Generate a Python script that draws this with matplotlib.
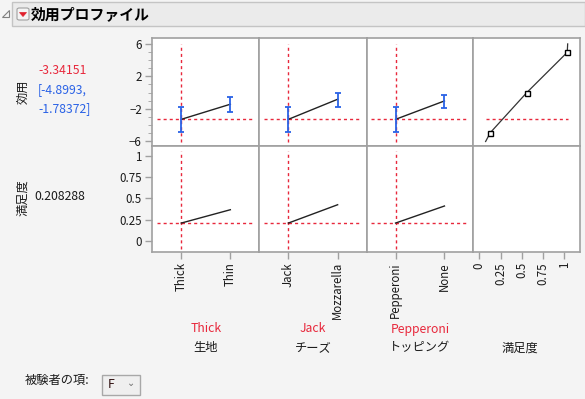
import matplotlib
matplotlib.use("Agg")
import matplotlib.pyplot as plt
from matplotlib.patches import Rectangle, Polygon, FancyBboxPatch

plt.rcParams['font.family'] = ['Noto Sans CJK JP', 'DejaVu Sans']

# ---------------- data ----------------
factor_names = ["生地", "チーズ", "トッピング"]
factor_levels = [["Thick", "Thin"], ["Jack", "Mozzarella"], ["Pepperoni", "None"]]
current_levels = ["Thick", "Jack", "Pepperoni"]
utility_vals = [[-3.34151, -1.46], [-3.34151, -0.84], [-3.34151, -1.05]]
utility_lo = [[-4.8993, -2.46], [-4.8993, -1.75], [-4.8993, -1.87]]
utility_hi = [[-1.78372, -0.62], [-1.78372, 0.0], [-1.78372, -0.25]]
desir_vals = [[0.208288, 0.366], [0.208288, 0.425], [0.208288, 0.41]]
current_utility = -3.34151
current_ci = [-4.8993, -1.78372]
current_desir = 0.208288
# satisfaction (desirability) function: utility vs desirability
curve_desir = [0.075, 0.13, 0.56, 1.035, 1.04]
curve_util = [-6.1, -5.0, 0.0, 5.0, 6.05]
ctrl_desir = [0.13, 0.56, 1.035]
ctrl_util = [-5.0, 0.0, 5.0]
util_ticks = [-6, -2, 2, 6]
desir_ticks = [0, 0.25, 0.5, 0.75, 1]
desir_ticklabels = ["0", "0.25", "0.5", "0.75", "1"]

# ---------------- styling ----------------
W, H = 585, 399
BG = "#f4f4f4"
RED = "#e8283c"
BLUE = "#2a62e6"
GRID = "#a0a0a0"
TXT = "#1a1a1a"

fig = plt.figure(figsize=(W / 100, H / 100), dpi=100, facecolor=BG)


def fx(x):
    return x / W


def fy(y):
    return 1 - y / H


def add_ax(x0, y0, x1, y1):
    ax = fig.add_axes([fx(x0), fy(y1), (x1 - x0) / W, (y1 - y0) / H])
    ax.set_facecolor("white")
    for s in ax.spines.values():
        s.set_color(GRID)
        s.set_linewidth(1.2)
    ax.tick_params(colors=GRID, labelcolor=TXT, labelsize=8.3, length=5, width=1, pad=2.5)
    return ax


xe = [152.3, 259.3, 366.7, 473.3, 580.0]
ytop, ymid, ybot = 38.3, 145.5, 251.7
UT_LIM = (-6.6, 6.75)
DS_LIM = (-0.13, 1.125)
FAC_LIM = (-0.59, 1.59)
SAT_LIM = (-0.07, 1.185)

dash = (0, (2.2, 2.2))

for i in range(4):
    axt = add_ax(xe[i], ytop, xe[i + 1], ymid)
    axb = add_ax(xe[i], ymid, xe[i + 1], ybot)
    axt.set_ylim(*UT_LIM)
    axb.set_ylim(*DS_LIM)
    if i < 3:
        pos = list(range(len(factor_levels[i])))
        for ax in (axt, axb):
            ax.set_xlim(*FAC_LIM)
            ax.axvline(pos[factor_levels[i].index(current_levels[i])], ymin=0.03, ymax=0.95,
                       color=RED, lw=1.0, ls=dash, zorder=1)
        axt.axhline(current_utility, xmin=0.04, xmax=0.95, color=RED, lw=1.0, ls=dash, zorder=1)
        axb.axhline(current_desir, xmin=0.04, xmax=0.95, color=RED, lw=1.0, ls=dash, zorder=1)
        yv = utility_vals[i]
        lo = [v - l for v, l in zip(yv, utility_lo[i])]
        hi = [h - v for v, h in zip(yv, utility_hi[i])]
        axt.plot(pos, yv, color="#222222", lw=1.0, zorder=3)
        axt.errorbar(pos, yv, yerr=[lo, hi], fmt="none", ecolor=BLUE, elinewidth=1.3,
                     capsize=2.2, capthick=1.3, zorder=4)
        axb.plot(pos, desir_vals[i], color="#222222", lw=1.0, zorder=3)
        axb.set_xticks(pos)
        axb.set_xticklabels(factor_levels[i], rotation=90, va="top")
    else:
        for ax in (axt, axb):
            ax.set_xlim(*SAT_LIM)
        axt.hlines(current_utility, min(curve_desir), max(curve_desir), color=RED, lw=1.0,
                   linestyles=dash, zorder=1)
        axt.plot(curve_desir, curve_util, color="#333333", lw=0.9, zorder=3)
        axt.plot(ctrl_desir, ctrl_util, ls="none", marker="s", ms=3.6, mfc="white",
                 mec="black", mew=1.0, zorder=4)
        axb.set_xticks(desir_ticks)
        axb.set_xticklabels(desir_ticklabels, rotation=90, va="top")
    axt.set_xticks([])
    if i == 0:
        axt.set_yticks(util_ticks)
        axt.set_yticks(range(-6, 7), minor=True)
        axt.tick_params(axis="y", which="minor", length=3, color=GRID)
        axb.set_yticks(desir_ticks)
        axb.set_yticklabels(desir_ticklabels)
    else:
        axt.set_yticks([])
        axt.set_yticks([], minor=True)
        axb.set_yticks([])

# ---------------- left texts ----------------
FS = 8.8
fig.text(fx(23), fy(92), "効用", rotation=90, ha="center", va="center", fontsize=FS, color=TXT)
fig.text(fx(38), fy(71), f"{current_utility:.5f}", ha="left", va="center", fontsize=FS, color=RED)
fig.text(fx(38), fy(90), f"[{current_ci[0]},", ha="left", va="center", fontsize=FS, color=BLUE)
fig.text(fx(38), fy(109), f"{current_ci[1]}]", ha="left", va="center", fontsize=FS, color=BLUE)
fig.text(fx(23), fy(198), "満足度", rotation=90, ha="center", va="center", fontsize=FS, color=TXT)
fig.text(fx(34), fy(196), f"{current_desir}", ha="left", va="center", fontsize=FS, color=TXT)

# ---------------- bottom labels ----------------
for i in range(3):
    cx = (xe[i] + xe[i + 1]) / 2
    fig.text(fx(cx), fy(329), current_levels[i], ha="center", va="center", fontsize=FS, color=RED)
    fig.text(fx(cx), fy(348), factor_names[i], ha="center", va="center", fontsize=FS, color=TXT)
fig.text(fx(520), fy(348), "満足度", ha="center", va="center", fontsize=FS, color=TXT)

# ---------------- title bar ----------------
fig.patches.append(Rectangle((fx(12), fy(26)), (W - 12) / W, 24 / H, transform=fig.transFigure,
                             facecolor="#ebebeb", edgecolor="#c4c4c4", lw=1))
fig.patches.append(Polygon([(fx(2.5), fy(17.5)), (fx(9.5), fy(17.5)), (fx(9.5), fy(10.5))],
                           closed=True, transform=fig.transFigure, facecolor="none",
                           edgecolor="#808080", lw=0.8))
fig.patches.append(FancyBboxPatch((fx(17), fy(20)), 12 / W, 12 / H, transform=fig.transFigure,
                                  boxstyle="round,pad=0,rounding_size=0.004",
                                  facecolor="#f4f4f4", edgecolor="#a0a0a0", lw=0.8))
fig.patches.append(Polygon([(fx(19.5), fy(12.5)), (fx(26.5), fy(12.5)), (fx(23), fy(16.5))],
                           closed=True, transform=fig.transFigure, facecolor="#e0202c",
                           edgecolor="#e0202c", lw=0.5))
fig.text(fx(31), fy(14), "効用プロファイル", ha="left", va="center", fontsize=10.7,
         fontweight="bold", color="black")

# ---------------- bottom control ----------------
fig.text(fx(25), fy(380), "被験者の項:", ha="left", va="center", fontsize=FS, color=TXT)
fig.patches.append(Rectangle((fx(101.5), fy(395)), 38 / W, 20 / H, transform=fig.transFigure,
                             facecolor="#efefef", edgecolor="#a8a8a8", lw=1))
fig.text(fx(108), fy(385), "F", ha="left", va="center", fontsize=FS, color="#301010")
fig.text(fx(131), fy(383), "⌄", ha="center", va="center", fontsize=7, color="#707070",
         family=["DejaVu Sans"])

fig.savefig("out.png", dpi=100, facecolor=BG)
